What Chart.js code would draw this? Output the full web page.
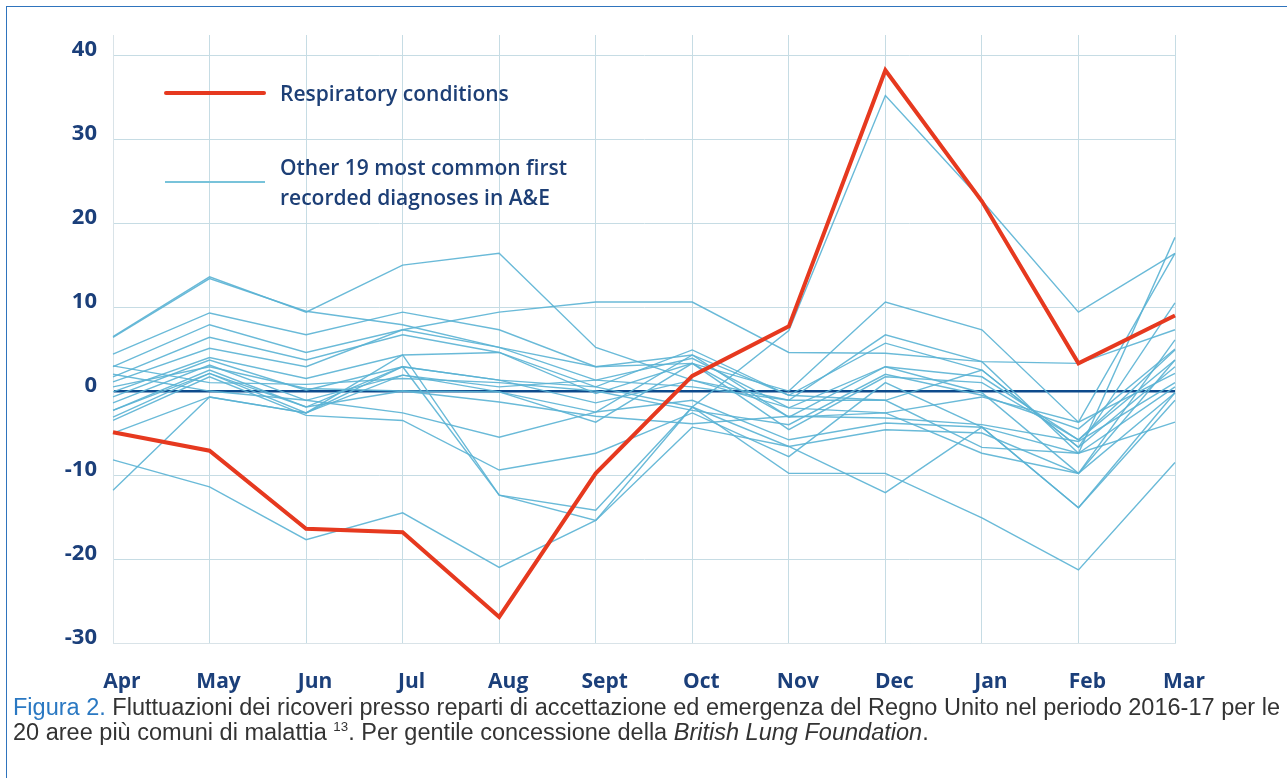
<!DOCTYPE html>
<html>
<head>
<meta charset="utf-8">
<script src="https://cdn.jsdelivr.net/npm/chart.js@4.4.1/dist/chart.umd.min.js"></script>
<style>
    body { margin: 0; background: #fff; width: 1287px; height: 778px; overflow: hidden; position: relative; font-family: "Open Sans", sans-serif; }
    #frame { position: absolute; left: 6px; top: 6px; width: 1300px; height: 800px; border-left: 1.5px solid #2f74bd; border-top: 1.5px solid #2f74bd; }
    #wrap { position: absolute; left: 0; top: 0; width: 1287px; height: 700px; }
    .leg-line { position: absolute; }
    .leg-text { position: absolute; color: #1d3f76; font-size: 21px; font-weight: 600; line-height: 30px; }
    #caption { position: absolute; left: 13px; top: 695px; font-family: "Liberation Sans", Arial, sans-serif; font-size: 23px; line-height: 25px; color: #333; white-space: nowrap; transform-origin: 0 0; }
    #caption b { color: #2a78c2; font-weight: normal; }
    #caption sup { font-size: 13px; line-height: 0; }
</style>
</head>
<body>
<div id="frame"></div>
<div id="wrap"><canvas id="chart"></canvas></div>

<div class="leg-line" style="left:164px; top:91px; width:102px; height:4px; background:#e6391f; border-radius:2px;"></div>
<div class="leg-text" style="left:280px; top:78px;">Respiratory conditions</div>
<div class="leg-line" style="left:165px; top:181px; width:100px; height:1.5px; background:#78c3da;"></div>
<div class="leg-text" style="left:280px; top:152px;">Other 19 most common first<br>recorded diagnoses in A&amp;E</div>

<div id="caption"><span id="cap1"><b>Figura 2.</b> Fluttuazioni dei ricoveri presso reparti di accettazione ed emergenza del Regno Unito nel periodo 2016-17 per le</span><br><span>20 aree più comuni di malattia <sup>13</sup>. Per gentile concessione della <i>British Lung Foundation</i>.</span></div>

<script>
const months = ['Apr', 'May', 'Jun', 'Jul', 'Aug', 'Sept', 'Oct', 'Nov', 'Dec', 'Jan', 'Feb', 'Mar'];
const yTicks = [40, 30, 20, 10, 0, -10, -20, -30];

const respiratory = [-4.9, -7.1, -16.4, -16.8, -26.9, -9.8, 1.8, 7.7, 38.2, 22.6, 3.3, 9.0];

const other1  = [6.5, 13.6, 9.4, 15.0, 16.4, 5.2, 1.3, -2.0, 2.9, 1.7, -5.8, 4.9];
const other2  = [6.4, 13.4, 9.5, 7.9, 5.2, 1.3, 0.5, -1.1, 6.7, 3.5, -7.4, 18.3];
const other3  = [4.4, 9.3, 6.7, 9.4, 7.3, 2.9, 3.3, 0.0, 10.6, 7.3, -3.7, 16.4];
const other4  = [2.9, 7.9, 4.6, 7.3, 9.4, 10.6, 10.6, 4.6, 4.5, 3.5, 3.3, 7.3];
const other5  = [1.7, 6.4, 3.7, 6.7, 4.6, 0.5, 4.9, -0.5, 5.7, 2.5, -6.7, 10.5];
const other6  = [1.1, 5.1, 2.9, 7.3, 5.2, 2.9, 4.3, -3.1, 2.9, -0.2, -9.8, 6.1];
const other7  = [-0.1, 4.0, 1.5, 4.3, 4.6, -0.3, 3.3, -4.6, 1.7, 1.0, -5.8, 3.7];
const other8  = [-0.7, 3.7, 0.1, 2.9, 1.3, -1.4, 1.3, -1.1, -1.1, 2.5, -6.7, 2.9];
const other9  = [-1.4, 3.1, -1.1, 1.9, 0.5, 1.3, 3.9, -2.0, -2.6, -0.7, -3.7, 2.1];
const other10 = [-2.3, 2.5, -1.9, 0.0, -0.1, -2.5, -1.1, -5.8, -3.8, -4.3, -7.4, 0.5];
const other11 = [-3.1, 2.1, -2.6, 2.9, 1.3, 0.5, -1.9, -6.6, -4.6, -5.0, -9.8, -0.2];
const other12 = [-3.5, 1.7, -2.9, -3.5, -9.4, -7.4, -2.6, -7.8, 1.0, -4.3, -13.9, -1.1];
const other13 = [2.0, 0.0, -1.1, -2.6, -5.5, -2.5, 4.3, -0.5, -1.1, -6.7, -7.4, -3.7];
const other14 = [-5.0, -0.7, -2.6, 4.3, -12.4, -14.2, -1.9, -9.8, -9.8, -15.1, -21.3, -8.5];
const other15 = [-8.2, -11.4, -17.7, -14.5, -21.0, -15.4, -4.3, -6.6, -12.1, -4.3, -13.9, -0.2];
const other16 = [-11.8, -0.7, -2.6, 1.9, -0.1, -3.7, 3.3, -3.1, -2.6, -7.4, -9.8, 3.7];
const other17 = [-2.3, 2.1, -1.9, 2.9, -12.4, -15.4, -1.9, 7.2, 35.2, 22.7, 9.4, 16.4];
const other18 = [0.5, 2.9, 0.3, 0.0, -1.3, -3.0, -3.9, -3.0, -3.2, -4.0, -6.0, 1.0];
const other19 = [3.0, 1.0, 0.8, 1.5, 1.0, 0.0, -2.3, -4.0, 2.0, -0.5, -4.5, 5.0];

const others = [other1, other2, other3, other4, other5, other6, other7, other8, other9, other10,
    other11, other12, other13, other14, other15, other16, other17, other18, other19];

const navy = '#1b3f7a';

// squeeze the caption so its first line spans the figure
const caption = document.getElementById('caption');
const w = document.getElementById('cap1').getBoundingClientRect().width;
caption.style.transform = 'scaleX(' + (1267 / w) + ')';

const datasets = [{
    label: 'Respiratory conditions',
    data: respiratory,
    borderColor: '#e6391f',
    borderWidth: 4,
    pointRadius: 0,
    borderJoinStyle: 'miter'
}];

others.forEach(function(values, i) {
    datasets.push({
        label: 'Other ' + (i + 1),
        data: values,
        borderColor: 'rgba(90, 178, 212, 0.9)',
        borderWidth: 1.4,
        pointRadius: 0
    });
});

new Chart(document.getElementById('chart'), {
    type: 'line',
    data: { labels: months, datasets: datasets },
    options: {
        responsive: true,
        maintainAspectRatio: false,
        animation: false,
        layout: { padding: { left: 0, top: 35, right: 112, bottom: 0 } },
        plugins: {
            legend: { display: false },
            tooltip: { enabled: false }
        },
        scales: {
            x: {
                offset: false,
                afterFit: function(scale) { scale.height = 57; },
                grid: { color: '#c6dce4', lineWidth: 1, drawTicks: false },
                border: { color: '#d9e3e8' },
                ticks: {
                    color: navy,
                    font: { family: 'Open Sans', size: 21, weight: 'bold' },
                    padding: 26,
                    labelOffset: 9,
                    maxRotation: 0
                }
            },
            y: {
                min: -30,
                max: 42.4,
                afterFit: function(scale) { scale.width = 113; },
                afterBuildTicks: function(scale) {
                    scale.ticks = yTicks.map(function(v) { return { value: v }; });
                },
                grid: {
                    drawTicks: false,
                    color: function(c) { return c.tick && c.tick.value === 0 ? '#0d4a8c' : '#c6dce4'; },
                    lineWidth: function(c) { return c.tick && c.tick.value === 0 ? 2.5 : 1; }
                },
                border: { color: '#d9e3e8' },
                ticks: {
                    color: navy,
                    font: { family: 'Open Sans', size: 22, weight: 'bold' },
                    padding: 16,
                    labelOffset: -5
                }
            }
        }
    }
});
</script>
</body>
</html>
